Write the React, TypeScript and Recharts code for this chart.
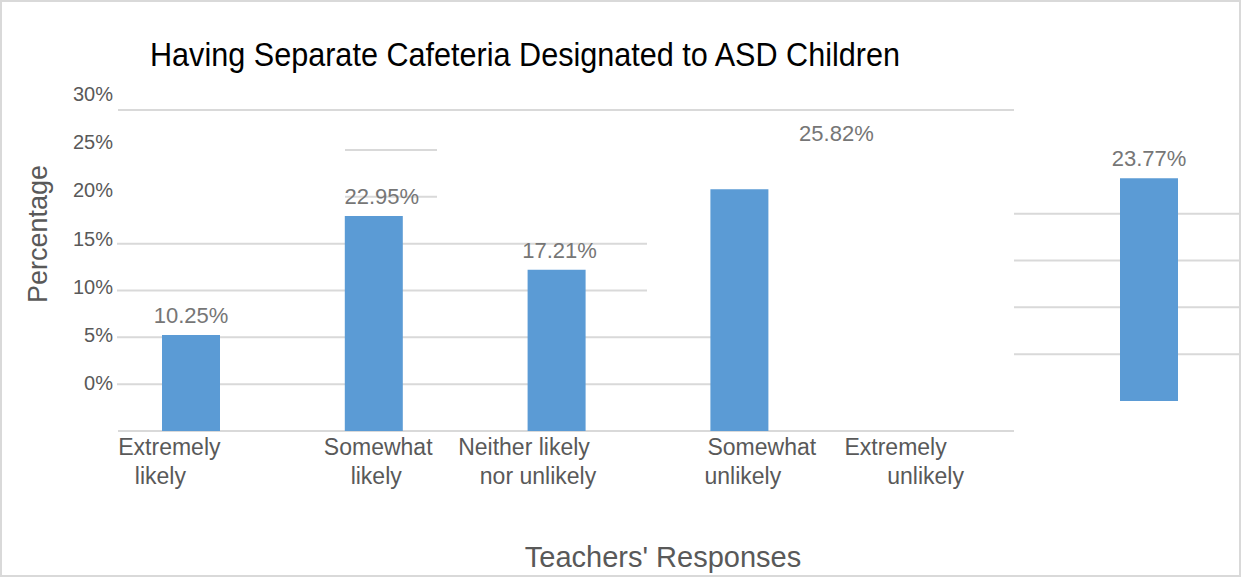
import React from "react";
import { BarChart, Bar, XAxis, YAxis, CartesianGrid, LabelList } from "recharts";

document.body.style.margin = "0";

const categories = [
  "Extremely likely",
  "Somewhat likely",
  "Neither likely nor unlikely",
  "Somewhat unlikely",
  "Extremely unlikely",
];
const tickLineOne = ["Extremely", "Somewhat", "Neither likely", "Somewhat", "Extremely"];
const tickLineTwo = ["likely", "likely", "nor unlikely", "unlikely", "unlikely"];
const shares = [10.25, 22.95, 17.21, 25.82, 23.77];
const yTicks = [0, 5, 10, 15, 20, 25, 30];

// per-category nudges for the two tick lines and the value labels
const tickNudge = [
  [-22, -31],
  [4, 2],
  [-33, -19],
  [22, 3],
  [-27, 3],
];
const labelNudge = [
  [0, 0],
  [8, 0],
  [3, 0],
  [97, -36],
  [0, 0],
];

const GRID = "#d9d9d9";
const BAR = "#5b9bd5";
const INK = "#595959";
const SANS = '"Liberation Sans", Arial, sans-serif';

// the last category sits in its own panel on the right
const inset = categories.length - 1;
const rows = categories.map((name, i) => ({ name, share: shares[i] }));
const mainRows = rows.map((r, i) => ({ ...r, share: i === inset ? null : r.share }));
const sideRows = rows.slice(inset);

function PercentTick(props: any) {
  const { x, y, payload, index } = props;
  return (
    <text x={x + 13} y={y - 48 - 1.3 * index + 7} textAnchor="end" fill={INK} fontSize={20} fontFamily={SANS}>
      {payload.value}%
    </text>
  );
}

function CategoryTick(props: any) {
  const { x, y, index } = props;
  const [d1, d2] = tickNudge[index] ?? [0, 0];
  return (
    <g fill={INK} fontSize={23} fontFamily={SANS}>
      <text x={x + d1} y={y + 24} textAnchor="middle">
        {tickLineOne[index]}
      </text>
      <text x={x + d2} y={y + 53} textAnchor="middle">
        {tickLineTwo[index]}
      </text>
    </g>
  );
}

function makeValueLabel(offset: number) {
  return (props: any) => {
    const { x, y, width, value, index } = props;
    if (value == null) return null;
    const [dx, dy] = labelNudge[index + offset] ?? [0, 0];
    return (
      <text
        x={x + width / 2 + dx}
        y={y - 12 + dy}
        textAnchor="middle"
        fill="#767676"
        fontSize={22}
        fontFamily={SANS}
      >
        {`${value.toFixed(2)}%`}
      </text>
    );
  };
}

export default function App() {
  return (
    <div
      style={{
        position: "relative",
        width: 1241,
        height: 577,
        background: "#fff",
        boxShadow: `inset 0 0 0 2px ${GRID}`,
        overflow: "hidden",
      }}
    >
      <div style={{ position: "absolute", left: 0, top: 0 }}>
        <BarChart width={1241} height={577} data={mainRows} margin={{ top: 150, right: 227, bottom: 86, left: 0 }}>
          <CartesianGrid vertical={false} horizontalPoints={[110]} x={118} width={896} stroke={GRID} strokeWidth={2} />
          <CartesianGrid vertical={false} horizontalValues={[25, 30]} x={345} width={92} stroke={GRID} strokeWidth={2} />
          <CartesianGrid vertical={false} horizontalValues={[15, 20]} x={117} width={530} stroke={GRID} strokeWidth={2} />
          <CartesianGrid vertical={false} horizontalValues={[5, 10]} x={117} width={594} stroke={GRID} strokeWidth={2} />
          <CartesianGrid vertical={false} horizontalValues={[0]} x={118} width={896} stroke={GRID} strokeWidth={2} />
          <XAxis
            dataKey="name"
            height={60}
            axisLine={false}
            tickLine={false}
            tickSize={0}
            tickMargin={0}
            interval={0}
            tick={<CategoryTick />}
          />
          <YAxis
            width={100}
            domain={[0, 30]}
            ticks={yTicks}
            axisLine={false}
            tickLine={false}
            tickSize={0}
            tickMargin={0}
            interval={0}
            tick={<PercentTick />}
          />
          <Bar dataKey="share" fill={BAR} barSize={58} isAnimationActive={false}>
            <LabelList dataKey="share" content={makeValueLabel(0)} />
          </Bar>
        </BarChart>
      </div>

      <div style={{ position: "absolute", left: 1014, top: 0 }}>
        <BarChart width={227} height={577} data={sideRows} margin={{ top: 120, right: 0, bottom: 176, left: 0 }}>
          <CartesianGrid vertical={false} horizontalValues={[5, 10, 15, 20]} stroke={GRID} strokeWidth={2} />
          <XAxis dataKey="name" hide padding={{ left: 42, right: 0 }} />
          <YAxis hide domain={[0, 30]} />
          <Bar dataKey="share" fill={BAR} barSize={58} isAnimationActive={false}>
            <LabelList dataKey="share" content={makeValueLabel(inset)} />
          </Bar>
        </BarChart>
      </div>

      <svg width={1241} height={577} style={{ position: "absolute", left: 0, top: 0, pointerEvents: "none" }}>
        <text
          x={150}
          y={66}
          fontSize={33}
          fontFamily={SANS}
          fill="#000"
          textLength={750}
          lengthAdjust="spacingAndGlyphs"
        >
          Having Separate Cafeteria Designated to ASD Children
        </text>
        <text x={663} y={567} textAnchor="middle" fontSize={29} fontFamily={SANS} fill={INK}>
          Teachers' Responses
        </text>
        <text
          x={0}
          y={0}
          transform="translate(47 234) rotate(-90)"
          textAnchor="middle"
          fontSize={27}
          fontFamily={SANS}
          fill={INK}
        >
          Percentage
        </text>
      </svg>
    </div>
  );
}
